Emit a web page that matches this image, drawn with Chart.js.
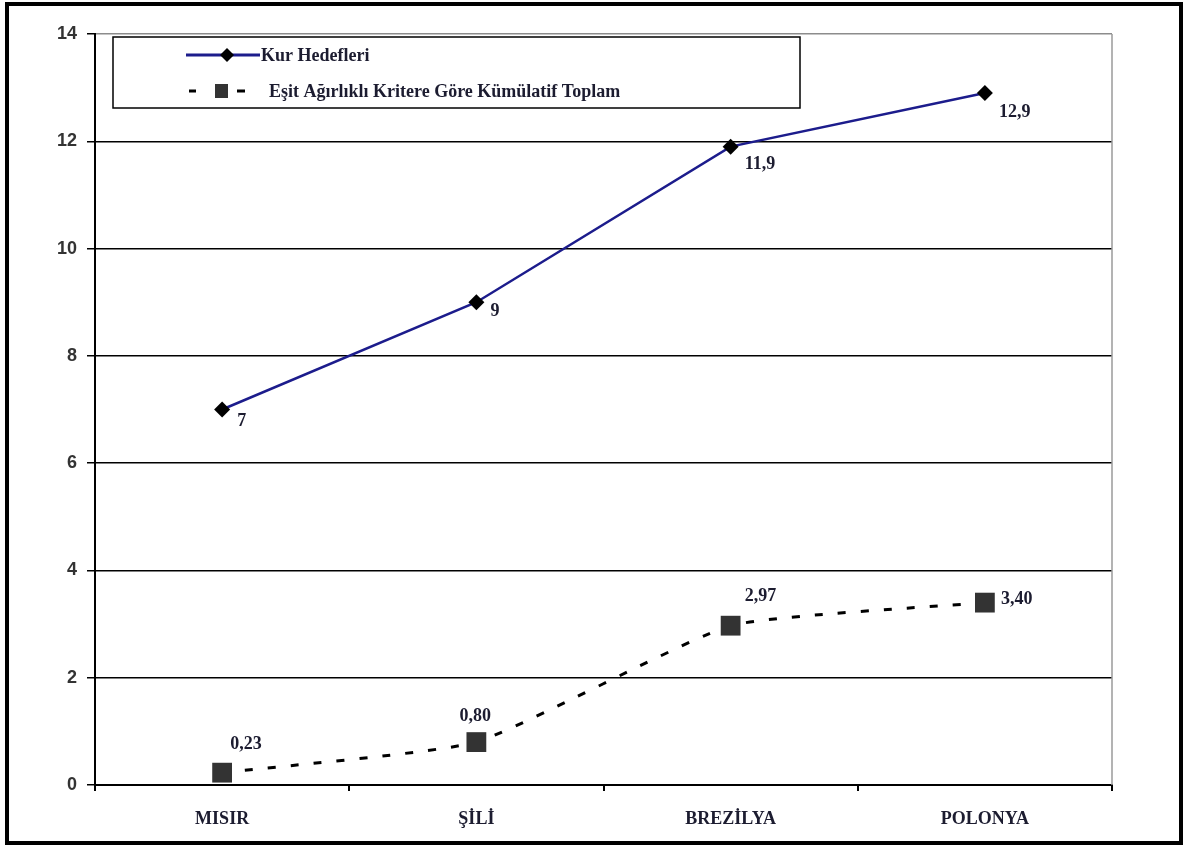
<!DOCTYPE html>
<html lang="tr">
<head>
<meta charset="utf-8">
<title>Kur Hedefleri</title>
<script src="https://cdn.jsdelivr.net/npm/chart.js@4.4.1/dist/chart.umd.min.js"></script>
<style>
  html, body { margin: 0; padding: 0; background: #fff; }
  #wrap { width: 1187px; height: 846px; position: relative; }
</style>
</head>
<body>
<div id="wrap"><canvas id="c" width="1187" height="846"></canvas></div>
<script>
// Countries on the x axis
const categories = ['MISIR', 'ŞİLİ', 'BREZİLYA', 'POLONYA'];

// Exchange-rate targets
const kurHedefleri = [7, 9, 11.9, 12.9];
const kurLabels = ['7', '9', '11,9', '12,9'];

// Cumulative total under the equal-weight criterion
const kumulatifToplam = [0.23, 0.80, 2.97, 3.40];
const kumulatifLabels = ['0,23', '0,80', '2,97', '3,40'];

// Y axis ticks
const yTicks = [0, 2, 4, 6, 8, 10, 12, 14];

const seriesNames = ['Kur Hedefleri', 'Eşit Ağırlıklı Kritere Göre Kümülatif Toplam'];

const serif = '"Liberation Serif", "Times New Roman", serif';
const sans = '"Liberation Sans", Arial, sans-serif';

// Frame around the whole figure, gray right edge of the plot, legend box and value labels
const decorations = {
  id: 'decorations',
  afterDraw(chart, args, opts) {
    const ctx = chart.ctx;
    const area = chart.chartArea;
    ctx.save();

    // plot area right edge
    ctx.strokeStyle = '#9a9a9a';
    ctx.lineWidth = 1.5;
    ctx.beginPath();
    ctx.moveTo(area.right, area.top);
    ctx.lineTo(area.right, area.bottom);
    ctx.stroke();

    // outer frame
    ctx.strokeStyle = '#000';
    ctx.lineWidth = 4;
    ctx.strokeRect(7, 4, 1174, 839);

    // value labels
    ctx.font = 'bold 18px ' + serif;
    ctx.fillStyle = '#1c1c30';
    ctx.textAlign = 'left';
    ctx.textBaseline = 'middle';
    opts.labels.forEach((set) => {
      const meta = chart.getDatasetMeta(set.dataset);
      meta.data.forEach((pt, i) => {
        const off = set.offsets[i];
        ctx.fillText(set.text[i], pt.x + off[0], pt.y + off[1]);
      });
    });

    // legend box
    const lb = opts.legendBox;
    ctx.fillStyle = '#fff';
    ctx.fillRect(lb.x, lb.y, lb.w, lb.h);
    ctx.strokeStyle = '#000';
    ctx.lineWidth = 1.5;
    ctx.strokeRect(lb.x, lb.y, lb.w, lb.h);

    const ds = chart.data.datasets;
    ctx.font = 'bold 18px ' + serif;

    // first entry: solid line with diamond
    const y1 = lb.y + 18;
    ctx.strokeStyle = ds[0].borderColor;
    ctx.lineWidth = 3;
    ctx.setLineDash([]);
    ctx.beginPath();
    ctx.moveTo(lb.x + 73, y1);
    ctx.lineTo(lb.x + 147, y1);
    ctx.stroke();
    ctx.fillStyle = '#000';
    const dx = lb.x + 114;
    ctx.beginPath();
    ctx.moveTo(dx, y1 - 7);
    ctx.lineTo(dx + 7, y1);
    ctx.lineTo(dx, y1 + 7);
    ctx.lineTo(dx - 7, y1);
    ctx.closePath();
    ctx.fill();
    ctx.fillStyle = '#1c1c30';
    ctx.fillText(ds[0].label, lb.x + 148, y1 + 1);

    // second entry: dashed line with square
    const y2 = lb.y + 54;
    ctx.strokeStyle = '#000';
    ctx.lineWidth = 3;
    ctx.beginPath();
    ctx.moveTo(lb.x + 76, y2); ctx.lineTo(lb.x + 83, y2);
    ctx.moveTo(lb.x + 124, y2); ctx.lineTo(lb.x + 132, y2);
    ctx.stroke();
    ctx.fillStyle = ds[1].pointBackgroundColor;
    ctx.fillRect(lb.x + 102, y2 - 7, 13, 14);
    ctx.fillStyle = '#1c1c30';
    ctx.fillText(ds[1].label, lb.x + 156, y2 + 1);

    ctx.restore();
  }
};

new Chart(document.getElementById('c'), {
  type: 'line',
  data: {
    labels: categories,
    datasets: [
      {
        label: seriesNames[0],
        data: kurHedefleri,
        borderColor: '#1c1c8c',
        borderWidth: 2.5,
        tension: 0,
        pointStyle: 'rectRot',
        pointRadius: 8,
        pointBackgroundColor: '#000',
        pointBorderColor: '#000',
        pointBorderWidth: 0,
        fill: false
      },
      {
        label: seriesNames[1],
        data: kumulatifToplam,
        borderColor: '#000',
        borderWidth: 3,
        borderDash: [8, 15],
        tension: 0.15,
        cubicInterpolationMode: 'default',
        pointStyle: 'rect',
        pointRadius: 14,
        pointBackgroundColor: '#333333',
        pointBorderColor: '#333333',
        pointBorderWidth: 0,
        fill: false
      }
    ]
  },
  options: {
    responsive: false,
    animation: false,
    devicePixelRatio: 1,
    layout: { padding: { top: 34, right: 75, left: 0, bottom: 0 } },
    plugins: {
      legend: { display: false },
      tooltip: { enabled: false },
      decorations: {
        legendBox: { x: 113, y: 37, w: 687, h: 71 },
        labels: [
          { dataset: 0, text: kurLabels, offsets: [[15, 12], [14, 9], [14, 18], [14, 19]] },
          { dataset: 1, text: kumulatifLabels, offsets: [[8, -28], [-17, -26], [14, -29], [16, -3]] }
        ]
      }
    },
    scales: {
      x: {
        offset: true,
        afterFit(scale) { scale.height = 61; },
        border: { display: true, color: '#000', width: 2 },
        grid: {
          display: true,
          offset: true,
          drawOnChartArea: false,
          drawTicks: true,
          tickLength: 6,
          color: '#000',
          lineWidth: 2
        },
        ticks: {
          padding: 18,
          color: '#1c1c30',
          font: { family: serif, size: 18, weight: 'bold' },
          maxRotation: 0
        }
      },
      y: {
        min: 0,
        max: 14,
        afterFit(scale) { scale.width = 95; },
        afterBuildTicks(scale) { scale.ticks = yTicks.map(v => ({ value: v })); },
        border: { display: true, color: '#000', width: 2 },
        grid: {
          color: (c) => (c.tick && c.tick.value === 14 ? '#8c8c8c' : '#000'),
          lineWidth: 1.5,
          drawTicks: true,
          tickLength: 8,
          tickColor: '#000'
        },
        ticks: {
          padding: 10,
          color: '#333',
          font: { family: sans, size: 18, weight: 'bold' }
        }
      }
    }
  },
  plugins: [decorations]
});
</script>
</body>
</html>
